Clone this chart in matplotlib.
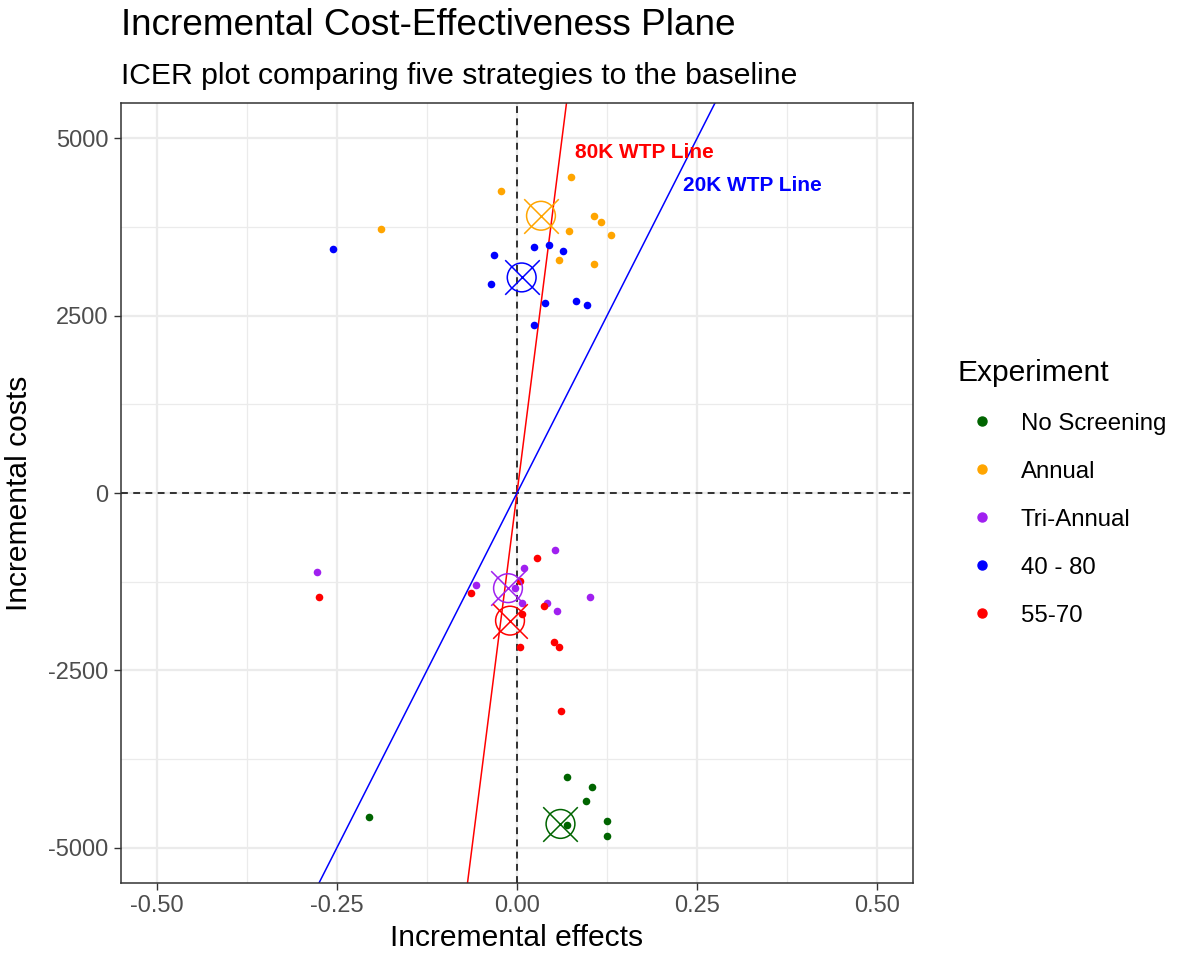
import matplotlib
matplotlib.use("Agg")
import matplotlib.pyplot as plt
from matplotlib.lines import Line2D

plt.rcParams["font.family"] = ["Liberation Sans", "DejaVu Sans"]
plt.rcParams["axes.unicode_minus"] = False

# ---- data -------------------------------------------------------------
strategies = ["No Screening", "Annual", "Tri-Annual", "40 - 80", "55-70"]
strategy_colors = ["#006400", "#FFA500", "#A020F0", "#0000FF", "#FF0000"]

no_screening_effects = [-0.2056, 0.0699, 0.1038, 0.0958, 0.0699, 0.1246, 0.1246]
no_screening_costs = [-4568, -4010, -4151, -4338, -4681, -4620, -4832]

annual_effects = [-0.0222, 0.0750, -0.1890, 0.1070, 0.1160, 0.0722, 0.1306, 0.0583, 0.1070]
annual_costs = [4252, 4459, 3726, 3910, 3815, 3698, 3642, 3289, 3229]

triannual_effects = [-0.2780, -0.0569, 0.0097, 0.0528, -0.0028, 0.0065, 0.0413, 0.0560, 0.1014]
triannual_costs = [-1119, -1293, -1057, -799, -1339, -1556, -1547, -1669, -1472]

age40_80_effects = [-0.2550, -0.0315, 0.0236, 0.0444, 0.0643, -0.0365, 0.0389, 0.0813, 0.0979, 0.0236]
age40_80_costs = [3434, 3353, 3468, 3501, 3409, 2944, 2676, 2711, 2655, 2366]

age55_70_effects = [-0.2750, -0.0643, 0.0271, 0.0042, 0.0379, 0.0069, 0.0042, 0.0514, 0.0580, 0.0611]
age55_70_costs = [-1472, -1415, -916, -1246, -1592, -1713, -2171, -2108, -2171, -3079]

# mean incremental effect / cost of each strategy
mean_effects = [0.0604, 0.0333, -0.0125, 0.0065, -0.0097]
mean_costs = [-4667, 3910, -1342, 3040, -1800]

wtp_thresholds = [80000, 20000]
wtp_labels = ["80K WTP Line", "20K WTP Line"]
wtp_colors = ["#FF0000", "#0000FF"]

all_effects = [no_screening_effects, annual_effects, triannual_effects,
               age40_80_effects, age55_70_effects]
all_costs = [no_screening_costs, annual_costs, triannual_costs,
             age40_80_costs, age55_70_costs]

# ---- figure -----------------------------------------------------------
W, H = 1181, 960
fig = plt.figure(figsize=(W / 100, H / 100), dpi=100)
ax = fig.add_axes([121 / W, 1 - 883 / H, (913 - 121) / W, (883 - 103) / H])

ax.set_xlim(-0.55, 0.55)
ax.set_ylim(-5500, 5500)
ax.set_xticks([-0.5, -0.25, 0, 0.25, 0.5])
ax.set_xticklabels(["-0.50", "-0.25", "0.00", "0.25", "0.50"])
ax.set_yticks([-5000, -2500, 0, 2500, 5000])
ax.set_yticklabels(["-5000", "-2500", "0", "2500", "5000"])
ax.set_xticks([-0.375, -0.125, 0.125, 0.375], minor=True)
ax.set_yticks([-3750, -1250, 1250, 3750], minor=True)

ax.grid(True, which="major", color="#EBEBEB", linewidth=1.6)
ax.grid(True, which="minor", color="#EBEBEB", linewidth=0.9)
ax.set_axisbelow(True)
ax.tick_params(which="major", length=5, width=1.0, color="#333333",
               labelsize=17, labelcolor="#4D4D4D", pad=4)
ax.tick_params(which="minor", length=0)
for sp in ax.spines.values():
    sp.set_color("#333333")
    sp.set_linewidth(1.1)

# quadrant reference lines
ax.axvline(0, color="black", linewidth=1.1, linestyle=(0, (4.5, 3.5)), zorder=2)
ax.axhline(0, color="black", linewidth=1.1, linestyle=(0, (4.5, 3.5)), zorder=2)

# willingness-to-pay lines through the origin
for thr, col in zip(wtp_thresholds, wtp_colors):
    ax.axline((0, 0), slope=thr, color=col, linewidth=1.1, zorder=2)

ax.text(0.0806, 4802, wtp_labels[0], color=wtp_colors[0], fontsize=15,
        fontweight="bold", ha="left", va="center")
ax.text(0.2306, 4332, wtp_labels[1], color=wtp_colors[1], fontsize=15,
        fontweight="bold", ha="left", va="center")

# simulated points per strategy
for xs, ys, col in zip(all_effects, all_costs, strategy_colors):
    ax.scatter(xs, ys, s=30, color=col, linewidths=0, zorder=3)

# strategy means
for mx, my, col in zip(mean_effects, mean_costs, strategy_colors):
    ax.scatter([mx], [my], s=430, marker="o", facecolors="none",
               edgecolors=col, linewidths=1.1, zorder=4)
    ax.scatter([mx], [my], s=620, marker="x", color=col,
               linewidths=1.1, zorder=4)

ax.set_xlabel("Incremental effects", fontsize=21.6, labelpad=5)
ax.set_ylabel("Incremental costs", fontsize=21.6, labelpad=11)

fig.text(121 / W, 1 - 35 / H, "Incremental Cost-Effectiveness Plane",
         fontsize=26.6, ha="left", va="baseline")
fig.text(121 / W, 1 - 84 / H, "ICER plot comparing five strategies to the baseline",
         fontsize=21.7, ha="left", va="baseline")

handles = [Line2D([], [], linestyle="none", marker="o", markersize=6.5,
                  markerfacecolor=c, markeredgecolor=c) for c in strategy_colors]
leg = fig.legend(handles, strategies, loc="upper left",
                 bbox_to_anchor=(941 / W, 1 - 342 / H), frameon=False,
                 fontsize=17.3, title="Experiment", title_fontsize=21.6,
                 handlelength=2.0, handletextpad=0.62, labelspacing=1.08,
                 borderpad=0.2, alignment="left")

fig.savefig("out.png", dpi=100)
